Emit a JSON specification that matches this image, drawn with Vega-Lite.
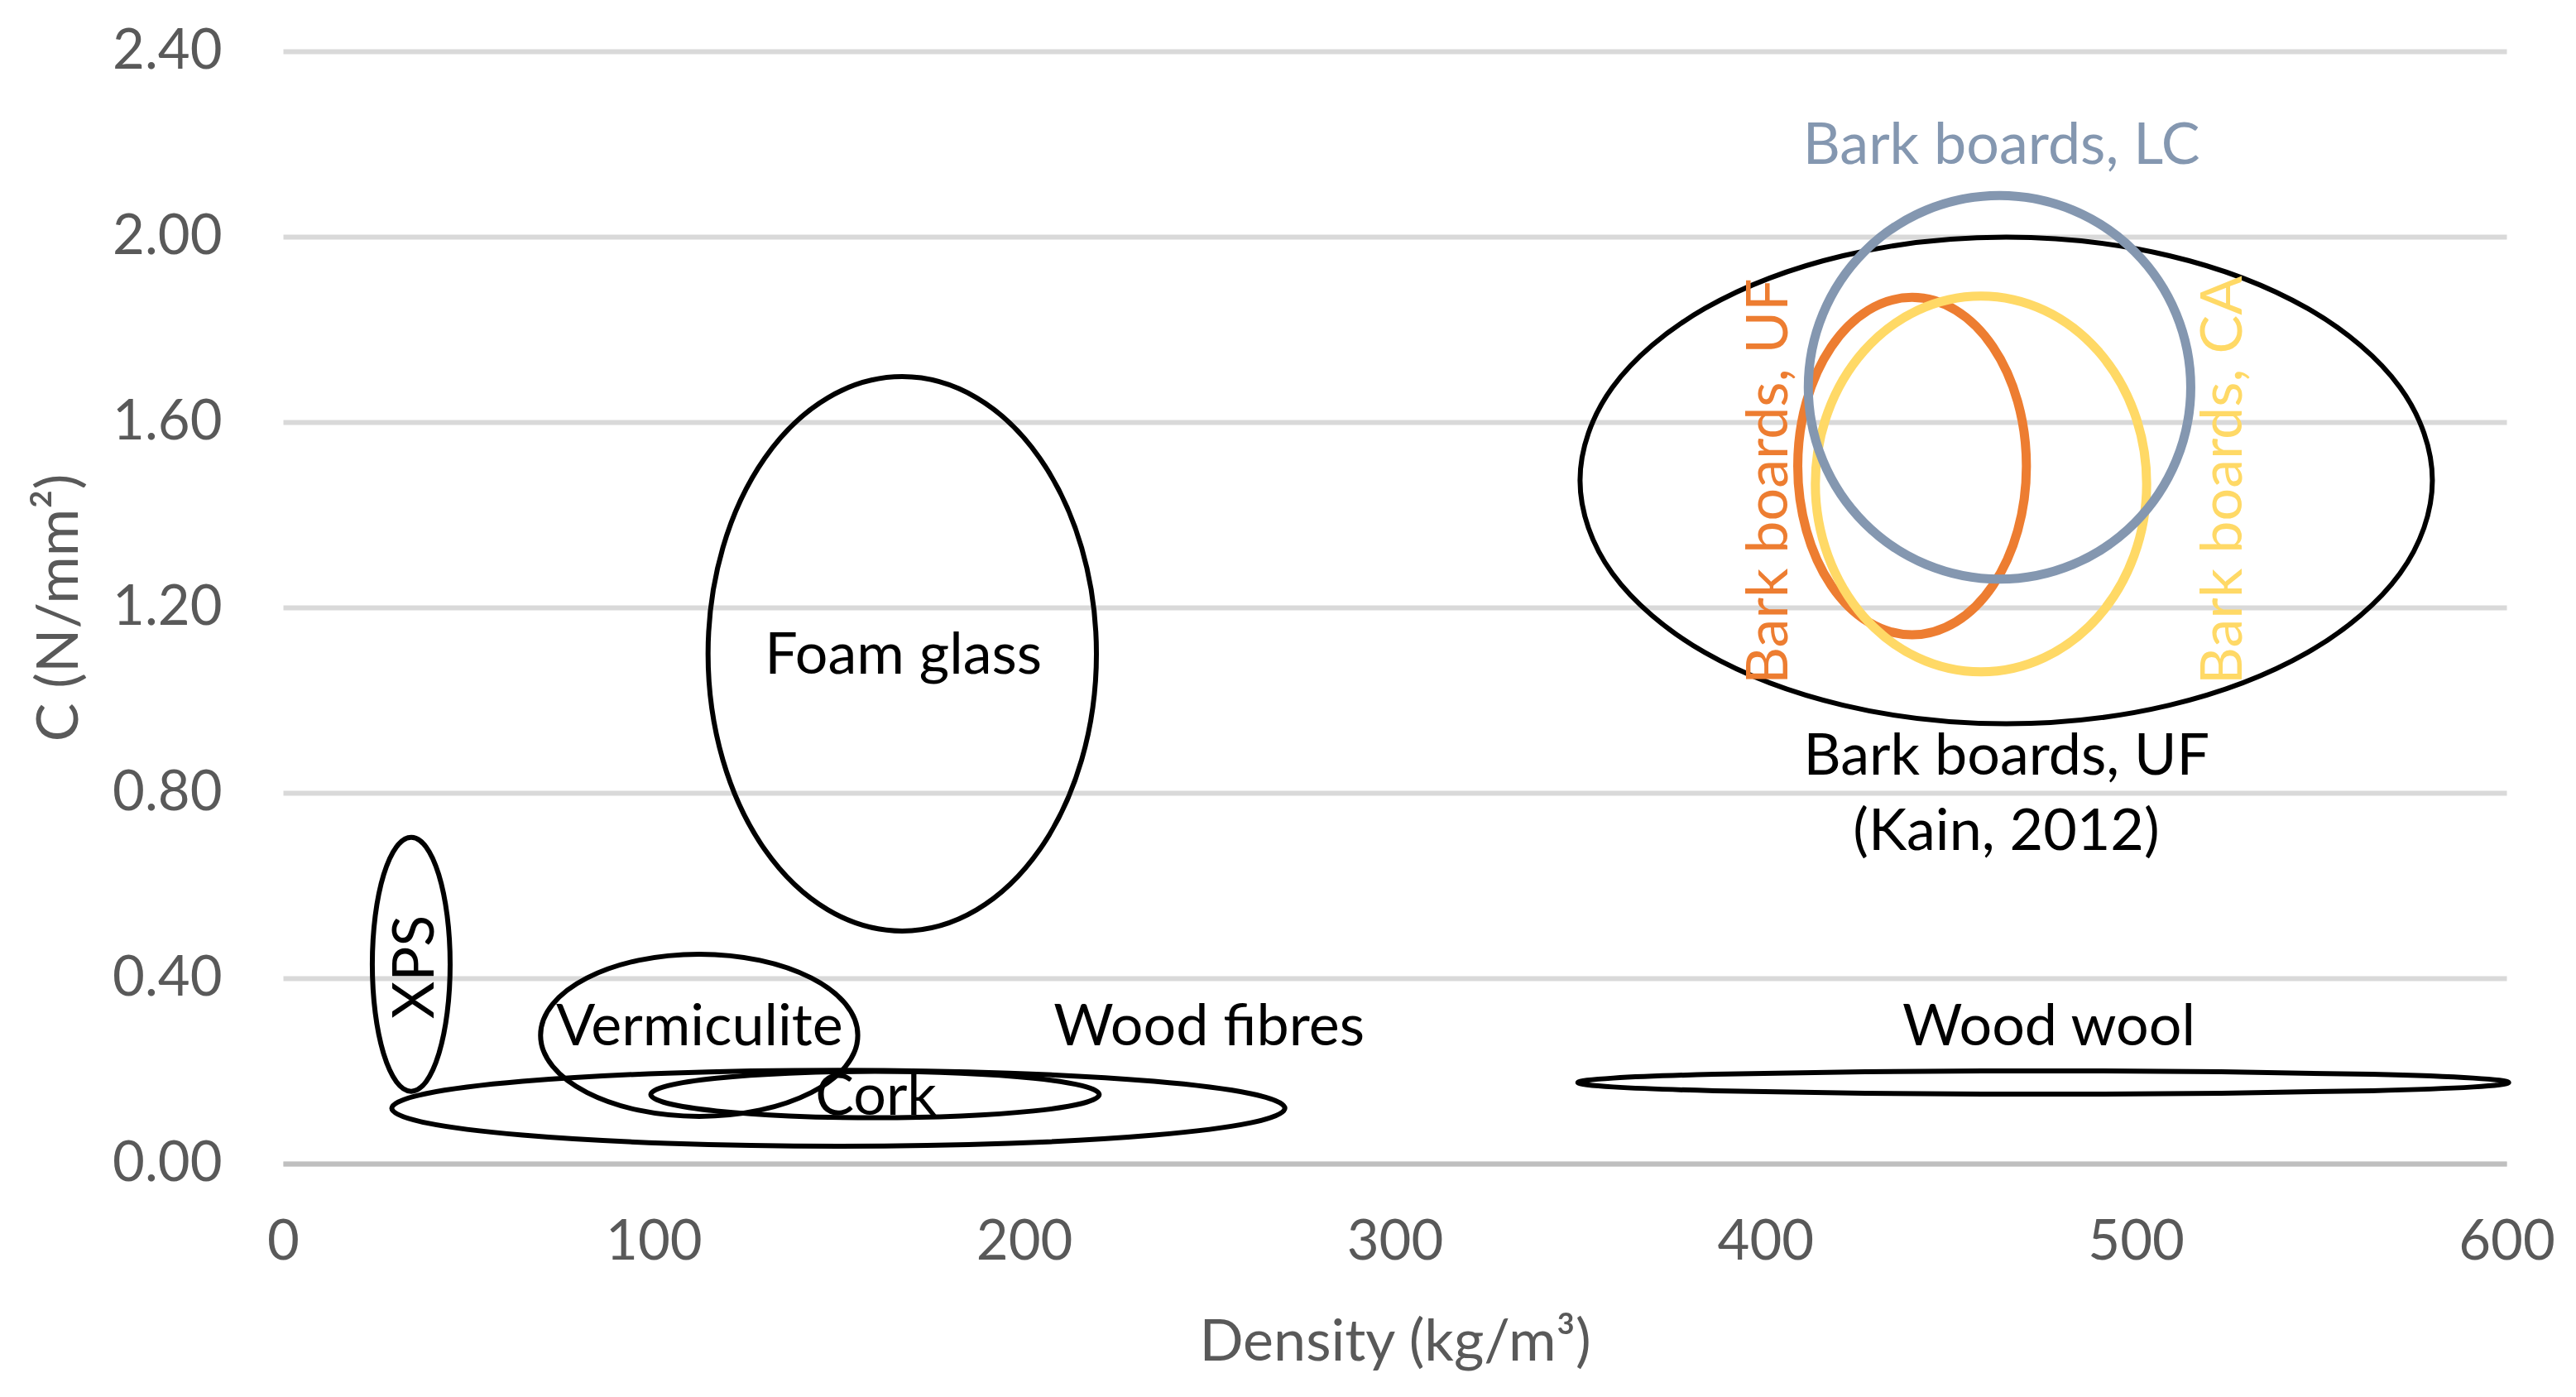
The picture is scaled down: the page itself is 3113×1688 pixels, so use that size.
{
  "$schema": "https://vega.github.io/schema/vega-lite/v6.json",
  "width": 2687,
  "height": 1344,
  "autosize": {"type": "none"},
  "padding": {"left": 342, "top": 62, "right": 84, "bottom": 282},
  "background": "white",
  "config": {"view": {"stroke": null}, "font": "Lato"},
  "datasets": {
    "pts": [
      {"series":"XPS","tone":"black","i":0,"x":45.1,"y":0.43},
      {"series":"XPS","tone":"black","i":1,"x":44.3,"y":0.5349},
      {"series":"XPS","tone":"black","i":2,"x":42.02,"y":0.6237},
      {"series":"XPS","tone":"black","i":3,"x":38.62,"y":0.6831},
      {"series":"XPS","tone":"black","i":4,"x":34.6,"y":0.704},
      {"series":"XPS","tone":"black","i":5,"x":30.58,"y":0.6831},
      {"series":"XPS","tone":"black","i":6,"x":27.18,"y":0.6237},
      {"series":"XPS","tone":"black","i":7,"x":24.9,"y":0.5349},
      {"series":"XPS","tone":"black","i":8,"x":24.1,"y":0.43},
      {"series":"XPS","tone":"black","i":9,"x":24.9,"y":0.3251},
      {"series":"XPS","tone":"black","i":10,"x":27.18,"y":0.2363},
      {"series":"XPS","tone":"black","i":11,"x":30.58,"y":0.1769},
      {"series":"XPS","tone":"black","i":12,"x":34.6,"y":0.156},
      {"series":"XPS","tone":"black","i":13,"x":38.62,"y":0.1769},
      {"series":"XPS","tone":"black","i":14,"x":42.02,"y":0.2363},
      {"series":"XPS","tone":"black","i":15,"x":44.3,"y":0.3251},

      {"series":"Foam glass","tone":"black","i":0,"x":219.5,"y":1.1},
      {"series":"Foam glass","tone":"black","i":1,"x":215.51,"y":1.3289},
      {"series":"Foam glass","tone":"black","i":2,"x":204.15,"y":1.5229},
      {"series":"Foam glass","tone":"black","i":3,"x":187.15,"y":1.6525},
      {"series":"Foam glass","tone":"black","i":4,"x":167.1,"y":1.698},
      {"series":"Foam glass","tone":"black","i":5,"x":147.05,"y":1.6525},
      {"series":"Foam glass","tone":"black","i":6,"x":130.05,"y":1.5229},
      {"series":"Foam glass","tone":"black","i":7,"x":118.69,"y":1.3289},
      {"series":"Foam glass","tone":"black","i":8,"x":114.7,"y":1.1},
      {"series":"Foam glass","tone":"black","i":9,"x":118.69,"y":0.8711},
      {"series":"Foam glass","tone":"black","i":10,"x":130.05,"y":0.6771},
      {"series":"Foam glass","tone":"black","i":11,"x":147.05,"y":0.5475},
      {"series":"Foam glass","tone":"black","i":12,"x":167.1,"y":0.502},
      {"series":"Foam glass","tone":"black","i":13,"x":187.15,"y":0.5475},
      {"series":"Foam glass","tone":"black","i":14,"x":204.15,"y":0.6771},
      {"series":"Foam glass","tone":"black","i":15,"x":215.51,"y":0.8711},

      {"series":"Vermiculite","tone":"black","i":0,"x":155.1,"y":0.277},
      {"series":"Vermiculite","tone":"black","i":1,"x":151.84,"y":0.344},
      {"series":"Vermiculite","tone":"black","i":2,"x":142.56,"y":0.4007},
      {"series":"Vermiculite","tone":"black","i":3,"x":128.68,"y":0.4387},
      {"series":"Vermiculite","tone":"black","i":4,"x":112.3,"y":0.452},
      {"series":"Vermiculite","tone":"black","i":5,"x":95.92,"y":0.4387},
      {"series":"Vermiculite","tone":"black","i":6,"x":82.04,"y":0.4007},
      {"series":"Vermiculite","tone":"black","i":7,"x":72.76,"y":0.344},
      {"series":"Vermiculite","tone":"black","i":8,"x":69.5,"y":0.277},
      {"series":"Vermiculite","tone":"black","i":9,"x":72.76,"y":0.21},
      {"series":"Vermiculite","tone":"black","i":10,"x":82.04,"y":0.1533},
      {"series":"Vermiculite","tone":"black","i":11,"x":95.92,"y":0.1153},
      {"series":"Vermiculite","tone":"black","i":12,"x":112.3,"y":0.102},
      {"series":"Vermiculite","tone":"black","i":13,"x":128.68,"y":0.1153},
      {"series":"Vermiculite","tone":"black","i":14,"x":142.56,"y":0.1533},
      {"series":"Vermiculite","tone":"black","i":15,"x":151.84,"y":0.21},

      {"series":"Cork","tone":"black","i":0,"x":220.25,"y":0.149},
      {"series":"Cork","tone":"black","i":1,"x":215.65,"y":0.1681},
      {"series":"Cork","tone":"black","i":2,"x":202.53,"y":0.1844},
      {"series":"Cork","tone":"black","i":3,"x":182.9,"y":0.1952},
      {"series":"Cork","tone":"black","i":4,"x":159.75,"y":0.199},
      {"series":"Cork","tone":"black","i":5,"x":136.6,"y":0.1952},
      {"series":"Cork","tone":"black","i":6,"x":116.97,"y":0.1844},
      {"series":"Cork","tone":"black","i":7,"x":103.85,"y":0.1681},
      {"series":"Cork","tone":"black","i":8,"x":99.25,"y":0.149},
      {"series":"Cork","tone":"black","i":9,"x":103.85,"y":0.1299},
      {"series":"Cork","tone":"black","i":10,"x":116.97,"y":0.1136},
      {"series":"Cork","tone":"black","i":11,"x":136.6,"y":0.1028},
      {"series":"Cork","tone":"black","i":12,"x":159.75,"y":0.099},
      {"series":"Cork","tone":"black","i":13,"x":182.9,"y":0.1028},
      {"series":"Cork","tone":"black","i":14,"x":202.53,"y":0.1136},
      {"series":"Cork","tone":"black","i":15,"x":215.65,"y":0.1299},

      {"series":"Wood fibres","tone":"black","i":0,"x":270.35,"y":0.1195},
      {"series":"Wood fibres","tone":"black","i":1,"x":261.18,"y":0.1509},
      {"series":"Wood fibres","tone":"black","i":2,"x":235.06,"y":0.1775},
      {"series":"Wood fibres","tone":"black","i":3,"x":195.97,"y":0.1953},
      {"series":"Wood fibres","tone":"black","i":4,"x":149.85,"y":0.2015},
      {"series":"Wood fibres","tone":"black","i":5,"x":103.73,"y":0.1953},
      {"series":"Wood fibres","tone":"black","i":6,"x":64.64,"y":0.1775},
      {"series":"Wood fibres","tone":"black","i":7,"x":38.52,"y":0.1509},
      {"series":"Wood fibres","tone":"black","i":8,"x":29.35,"y":0.1195},
      {"series":"Wood fibres","tone":"black","i":9,"x":38.52,"y":0.0881},
      {"series":"Wood fibres","tone":"black","i":10,"x":64.64,"y":0.0615},
      {"series":"Wood fibres","tone":"black","i":11,"x":103.73,"y":0.0437},
      {"series":"Wood fibres","tone":"black","i":12,"x":149.85,"y":0.0375},
      {"series":"Wood fibres","tone":"black","i":13,"x":195.97,"y":0.0437},
      {"series":"Wood fibres","tone":"black","i":14,"x":235.06,"y":0.0615},
      {"series":"Wood fibres","tone":"black","i":15,"x":261.18,"y":0.0881},

      {"series":"Wood wool","tone":"black","i":0,"x":600.6,"y":0.175},
      {"series":"Wood wool","tone":"black","i":1,"x":591.04,"y":0.1846},
      {"series":"Wood wool","tone":"black","i":2,"x":563.81,"y":0.1927},
      {"series":"Wood wool","tone":"black","i":3,"x":523.07,"y":0.1981},
      {"series":"Wood wool","tone":"black","i":4,"x":475,"y":0.2},
      {"series":"Wood wool","tone":"black","i":5,"x":426.93,"y":0.1981},
      {"series":"Wood wool","tone":"black","i":6,"x":386.19,"y":0.1927},
      {"series":"Wood wool","tone":"black","i":7,"x":358.96,"y":0.1846},
      {"series":"Wood wool","tone":"black","i":8,"x":349.4,"y":0.175},
      {"series":"Wood wool","tone":"black","i":9,"x":358.96,"y":0.1654},
      {"series":"Wood wool","tone":"black","i":10,"x":386.19,"y":0.1573},
      {"series":"Wood wool","tone":"black","i":11,"x":426.93,"y":0.1519},
      {"series":"Wood wool","tone":"black","i":12,"x":475,"y":0.15},
      {"series":"Wood wool","tone":"black","i":13,"x":523.07,"y":0.1519},
      {"series":"Wood wool","tone":"black","i":14,"x":563.81,"y":0.1573},
      {"series":"Wood wool","tone":"black","i":15,"x":591.04,"y":0.1654},

      {"series":"Bark boards, UF (Kain, 2012)","tone":"black","i":0,"x":580,"y":1.474},
      {"series":"Bark boards, UF (Kain, 2012)","tone":"black","i":1,"x":571.25,"y":1.6749},
      {"series":"Bark boards, UF (Kain, 2012)","tone":"black","i":2,"x":546.32,"y":1.8452},
      {"series":"Bark boards, UF (Kain, 2012)","tone":"black","i":3,"x":509.01,"y":1.959},
      {"series":"Bark boards, UF (Kain, 2012)","tone":"black","i":4,"x":465,"y":1.999},
      {"series":"Bark boards, UF (Kain, 2012)","tone":"black","i":5,"x":420.99,"y":1.959},
      {"series":"Bark boards, UF (Kain, 2012)","tone":"black","i":6,"x":383.68,"y":1.8452},
      {"series":"Bark boards, UF (Kain, 2012)","tone":"black","i":7,"x":358.75,"y":1.6749},
      {"series":"Bark boards, UF (Kain, 2012)","tone":"black","i":8,"x":350,"y":1.474},
      {"series":"Bark boards, UF (Kain, 2012)","tone":"black","i":9,"x":358.75,"y":1.2731},
      {"series":"Bark boards, UF (Kain, 2012)","tone":"black","i":10,"x":383.68,"y":1.1028},
      {"series":"Bark boards, UF (Kain, 2012)","tone":"black","i":11,"x":420.99,"y":0.989},
      {"series":"Bark boards, UF (Kain, 2012)","tone":"black","i":12,"x":465,"y":0.949},
      {"series":"Bark boards, UF (Kain, 2012)","tone":"black","i":13,"x":509.01,"y":0.989},
      {"series":"Bark boards, UF (Kain, 2012)","tone":"black","i":14,"x":546.32,"y":1.1028},
      {"series":"Bark boards, UF (Kain, 2012)","tone":"black","i":15,"x":571.25,"y":1.2731},

      {"series":"Bark boards, UF","tone":"UF","i":0,"x":470.45,"y":1.505},
      {"series":"Bark boards, UF","tone":"UF","i":1,"x":468.1,"y":1.6443},
      {"series":"Bark boards, UF","tone":"UF","i":2,"x":461.41,"y":1.7624},
      {"series":"Bark boards, UF","tone":"UF","i":3,"x":451.41,"y":1.8413},
      {"series":"Bark boards, UF","tone":"UF","i":4,"x":439.6,"y":1.869},
      {"series":"Bark boards, UF","tone":"UF","i":5,"x":427.79,"y":1.8413},
      {"series":"Bark boards, UF","tone":"UF","i":6,"x":417.79,"y":1.7624},
      {"series":"Bark boards, UF","tone":"UF","i":7,"x":411.1,"y":1.6443},
      {"series":"Bark boards, UF","tone":"UF","i":8,"x":408.75,"y":1.505},
      {"series":"Bark boards, UF","tone":"UF","i":9,"x":411.1,"y":1.3657},
      {"series":"Bark boards, UF","tone":"UF","i":10,"x":417.79,"y":1.2476},
      {"series":"Bark boards, UF","tone":"UF","i":11,"x":427.79,"y":1.1687},
      {"series":"Bark boards, UF","tone":"UF","i":12,"x":439.6,"y":1.141},
      {"series":"Bark boards, UF","tone":"UF","i":13,"x":451.41,"y":1.1687},
      {"series":"Bark boards, UF","tone":"UF","i":14,"x":461.41,"y":1.2476},
      {"series":"Bark boards, UF","tone":"UF","i":15,"x":468.1,"y":1.3657},

      {"series":"Bark boards, CA","tone":"CA","i":0,"x":502.9,"y":1.4665},
      {"series":"Bark boards, CA","tone":"CA","i":1,"x":499.5,"y":1.6217},
      {"series":"Bark boards, CA","tone":"CA","i":2,"x":489.81,"y":1.7532},
      {"series":"Bark boards, CA","tone":"CA","i":3,"x":475.31,"y":1.8411},
      {"series":"Bark boards, CA","tone":"CA","i":4,"x":458.2,"y":1.872},
      {"series":"Bark boards, CA","tone":"CA","i":5,"x":441.09,"y":1.8411},
      {"series":"Bark boards, CA","tone":"CA","i":6,"x":426.59,"y":1.7532},
      {"series":"Bark boards, CA","tone":"CA","i":7,"x":416.9,"y":1.6217},
      {"series":"Bark boards, CA","tone":"CA","i":8,"x":413.5,"y":1.4665},
      {"series":"Bark boards, CA","tone":"CA","i":9,"x":416.9,"y":1.3119},
      {"series":"Bark boards, CA","tone":"CA","i":10,"x":426.59,"y":1.1798},
      {"series":"Bark boards, CA","tone":"CA","i":11,"x":441.09,"y":1.0919},
      {"series":"Bark boards, CA","tone":"CA","i":12,"x":458.2,"y":1.061},
      {"series":"Bark boards, CA","tone":"CA","i":13,"x":475.31,"y":1.0919},
      {"series":"Bark boards, CA","tone":"CA","i":14,"x":489.81,"y":1.1798},
      {"series":"Bark boards, CA","tone":"CA","i":15,"x":499.5,"y":1.3119},

      {"series":"Bark boards, LC","tone":"LC","i":0,"x":514.8,"y":1.675},
      {"series":"Bark boards, LC","tone":"LC","i":1,"x":510.87,"y":1.8334},
      {"series":"Bark boards, LC","tone":"LC","i":2,"x":499.69,"y":1.9677},
      {"series":"Bark boards, LC","tone":"LC","i":3,"x":482.95,"y":2.0575},
      {"series":"Bark boards, LC","tone":"LC","i":4,"x":463.2,"y":2.089},
      {"series":"Bark boards, LC","tone":"LC","i":5,"x":443.45,"y":2.0575},
      {"series":"Bark boards, LC","tone":"LC","i":6,"x":426.71,"y":1.9677},
      {"series":"Bark boards, LC","tone":"LC","i":7,"x":415.53,"y":1.8334},
      {"series":"Bark boards, LC","tone":"LC","i":8,"x":411.6,"y":1.675},
      {"series":"Bark boards, LC","tone":"LC","i":9,"x":415.53,"y":1.5166},
      {"series":"Bark boards, LC","tone":"LC","i":10,"x":426.71,"y":1.3823},
      {"series":"Bark boards, LC","tone":"LC","i":11,"x":443.45,"y":1.2925},
      {"series":"Bark boards, LC","tone":"LC","i":12,"x":463.2,"y":1.261},
      {"series":"Bark boards, LC","tone":"LC","i":13,"x":482.95,"y":1.2925},
      {"series":"Bark boards, LC","tone":"LC","i":14,"x":499.69,"y":1.3823},
      {"series":"Bark boards, LC","tone":"LC","i":15,"x":510.87,"y":1.5166}
    ],
    "labels": [
      {"text":"Foam glass","tone":"black","orient":"h","x":167.4,"y":1.0566},
      {"text":"Vermiculite","tone":"black","orient":"h","x":112.4,"y":0.2553},
      {"text":"Cork","tone":"black","orient":"h","x":160,"y":0.106},
      {"text":"Wood fibres","tone":"black","orient":"h","x":249.9,"y":0.2553},
      {"text":"Wood wool","tone":"black","orient":"h","x":476.5,"y":0.2553},
      {"text":"Bark boards, UF","tone":"black","orient":"h","x":465.1,"y":0.8386},
      {"text":"(Kain, 2012)","tone":"black","orient":"h","x":465,"y":0.677},
      {"text":"Bark boards, LC","tone":"LC","orient":"h","x":463.7,"y":2.157},
      {"text":"XPS","tone":"black","orient":"v","x":40.6,"y":0.424},
      {"text":"Bark boards, UF","tone":"UF","orient":"v","x":406.0,"y":1.4718},
      {"text":"Bark boards, CA","tone":"CA","orient":"v","x":528.5,"y":1.4745}
    ]
  },
  "encoding": {
    "x": {
      "field": "x", "type": "quantitative",
      "scale": {"domain": [0, 600], "nice": false, "zero": false},
      "axis": {
        "title": "Density (kg/m³)",
        "values": [0, 100, 200, 300, 400, 500, 600],
        "grid": false, "ticks": false, "tickSize": 0,
        "domain": true, "domainColor": "#BFBFBF", "domainWidth": 6,
        "labelFont": "Lato", "labelFontSize": 67, "labelColor": "#595959",
        "labelPadding": 62, "labelFlush": false, "labelOverlap": false,
        "titleFont": "Lato", "titleFontSize": 70, "titleColor": "#595959",
        "titleFontWeight": "normal", "titleBaseline": "alphabetic", "titleY": 237
      }
    },
    "y": {
      "field": "y", "type": "quantitative",
      "scale": {"domain": [0, 2.4], "nice": false, "zero": false},
      "axis": {
        "title": "C (N/mm²)",
        "values": [0, 0.4, 0.8, 1.2, 1.6, 2.0, 2.4],
        "format": ".2f",
        "grid": true, "gridColor": "#D9D9D9", "gridWidth": 6,
        "ticks": false, "tickSize": 0, "domain": false,
        "labelFont": "Lato", "labelFontSize": 67, "labelColor": "#595959",
        "labelPadding": 74, "labelFlush": false, "labelOverlap": false,
        "titleFont": "Lato", "titleFontSize": 70, "titleColor": "#595959",
        "titleFontWeight": "normal", "titleBaseline": "alphabetic",
        "titleAngle": 270, "titleX": -249, "titleY": 672
      }
    },
    "color": {
      "field": "tone", "type": "nominal",
      "scale": {"domain": ["black", "UF", "CA", "LC"], "range": ["#000000", "#ED7D31", "#FFD966", "#8497B0"]},
      "legend": null
    }
  },
  "layer": [
    {
      "data": {"name": "pts"},
      "transform": [{"filter": "datum.tone == 'black'"}],
      "mark": {"type": "line", "interpolate": "cardinal-closed", "strokeWidth": 6},
      "encoding": {"detail": {"field": "series", "type": "nominal"}, "order": {"field": "i", "type": "quantitative"}}
    },
    {
      "data": {"name": "pts"},
      "transform": [{"filter": "datum.tone != 'black'"}],
      "mark": {"type": "line", "interpolate": "cardinal-closed", "strokeWidth": 11},
      "encoding": {"detail": {"field": "series", "type": "nominal"}, "order": {"field": "i", "type": "quantitative"}}
    },
    {
      "data": {"name": "labels"},
      "transform": [{"filter": "datum.orient == 'h'"}],
      "mark": {"type": "text", "font": "Lato", "fontSize": 70, "align": "center", "baseline": "alphabetic"},
      "encoding": {"text": {"field": "text", "type": "nominal"}}
    },
    {
      "data": {"name": "labels"},
      "transform": [{"filter": "datum.orient == 'v'"}],
      "mark": {"type": "text", "font": "Lato", "fontSize": 70, "align": "center", "baseline": "alphabetic", "angle": 270},
      "encoding": {"text": {"field": "text", "type": "nominal"}}
    }
  ]
}
